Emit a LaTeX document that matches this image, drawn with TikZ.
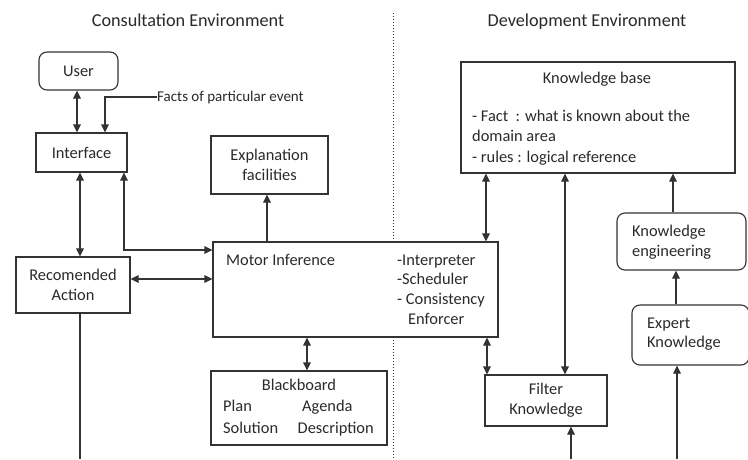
\documentclass[tikz,border=0pt]{standalone}
\usepackage{fontspec}
\setmainfont{Carlito}
\usetikzlibrary{arrows.meta}
\definecolor{linec}{HTML}{333333}
\definecolor{textc}{HTML}{2A2A2A}
\tikzset{
 box/.style={draw=linec, line width=1.1pt, fill=white, inner sep=0pt, text=textc, align=center, font=\fontsize{16.4}{20}\selectfont},
 rbox/.style={box, rounded corners=8pt},
 txt/.style={inner sep=0pt, text=textc, font=\fontsize{16.4}{20}\selectfont, text height=11pt, text depth=3pt},
 conn/.style={draw=linec, line width=1.1pt, >={Triangle[length=8pt,width=7.5pt]}},
}
\begin{document}
\begin{tikzpicture}[x=1pt,y=-1pt]
\path[use as bounding box] (0,0) rectangle (748,459);
\clip (0,0) rectangle (748,459);
\fill[white] (0,0) rectangle (748,459);
% divider
\coordinate (dtop) at (393,13);
\coordinate (dbot) at (393,459);
\draw[linec, line width=1pt, dotted] (dtop) -- (dbot);
% titles
\node[txt, font=\fontsize{18.2}{22}\selectfont] (tc) at (188,22) {Consultation Environment};
\node[txt, font=\fontsize{18.2}{22}\selectfont] (td) at (587,22) {Development Environment};
% boxes
\node[rbox, minimum width=79pt, minimum height=38pt] (user) at (78.5,71) {User};
\node[box, minimum width=91pt, minimum height=39pt] (iface) at (81.5,152.5) {Interface};
\node[box, minimum width=117pt, minimum height=58pt] (expl) at (269.5,165) {Explanation\\facilities};
\node[box, minimum width=114pt, minimum height=56pt] (reco) at (73,285) {Recomended\\Action};
\node[box, minimum width=285pt, minimum height=95pt] (motor) at (355.5,289.5) {};
\node[box, minimum width=176pt, minimum height=74pt] (bb) at (299,408) {};
\node[box, minimum width=274pt, minimum height=111pt] (kb) at (598,117.5) {};
\node[rbox, minimum width=129pt, minimum height=57pt] (ke) at (681.5,241.5) {};
\node[rbox, minimum width=117pt, minimum height=60pt] (exp) at (690.5,335) {};
\node[box, minimum width=122pt, minimum height=51pt] (filt) at (546,400.5) {Filter\\Knowledge};
% texts
\node[txt, font=\fontsize{15}{18}\selectfont, anchor=west] (facts) at (157,97) {Facts of particular event};
\node[txt, anchor=west] (m1) at (226,261) {Motor Inference};
\node[txt, anchor=west] (m2) at (397,261) {-Interpreter};
\node[txt, anchor=west] (m3) at (397,280.5) {-Scheduler};
\node[txt, anchor=west] (m4) at (397,300) {- Consistency};
\node[txt, anchor=west] (m5) at (408,320) {Enforcer};
\node[txt] (b1) at (299,386) {Blackboard};
\node[txt, anchor=west] (b2) at (223,407.5) {Plan};
\node[txt, anchor=west] (b3) at (302,407.5) {Agenda};
\node[txt, anchor=west] (b4) at (223,429) {Solution};
\node[txt, anchor=west] (b5) at (297.5,429) {Description};
\node[txt] (k1) at (597,79) {Knowledge base};
\node[txt, anchor=west] (k2) at (472,117) {- Fact\ \ : what is known about the};
\node[txt, anchor=west] (k3) at (472,137.5) {domain area};
\node[txt, anchor=west] (k4) at (472,158) {- rules : logical reference};
\node[txt, anchor=west] (e1) at (632,232) {Knowledge};
\node[txt, anchor=west] (e2) at (632,252) {engineering};
\node[txt, anchor=west] (x1) at (647,324) {Expert};
\node[txt, anchor=west] (x2) at (647,343) {Knowledge};
% free ends
\coordinate (rbot) at (80,459);
\coordinate (fbot) at (571,459);
\coordinate (xbot) at (677,459);
% connectors
\draw[conn,<->] (user.south -| 77,0) -- (iface.north -| 77,0);
\draw[conn,->] (facts.west) -| (iface.north -| 105,0);
\draw[conn,<->] (iface.south -| 80,0) -- (reco.north -| 80,0);
\draw[conn,<->] (iface.south -| 124,0) |- (motor.west |- 0,250);
\draw[conn,<->] (reco.east |- 0,279) -- (motor.west |- 0,279);
\draw[conn,->] (motor.north -| 267,0) -- (expl.south -| 267,0);
\draw[conn,<->] (motor.south -| 307,0) -- (bb.north -| 307,0);
\draw[conn,<->] (kb.south -| 486,0) -- (motor.north -| 486,0);
\draw[conn,<->] (kb.south -| 565,0) -- (filt.north -| 565,0);
\draw[conn,<->] (motor.south -| 487,0) -- (filt.north -| 487,0);
\draw[conn,->] (ke.north -| 673,0) -- (kb.south -| 673,0);
\draw[conn,->] (exp.north -| 676,0) -- (ke.south -| 676,0);
\draw[conn,->] (fbot) -- (filt.south -| fbot);
\draw[conn,->] (xbot) -- (exp.south -| xbot);
\draw[conn] (reco.south -| rbot) -- (rbot);
\end{tikzpicture}
\end{document}
